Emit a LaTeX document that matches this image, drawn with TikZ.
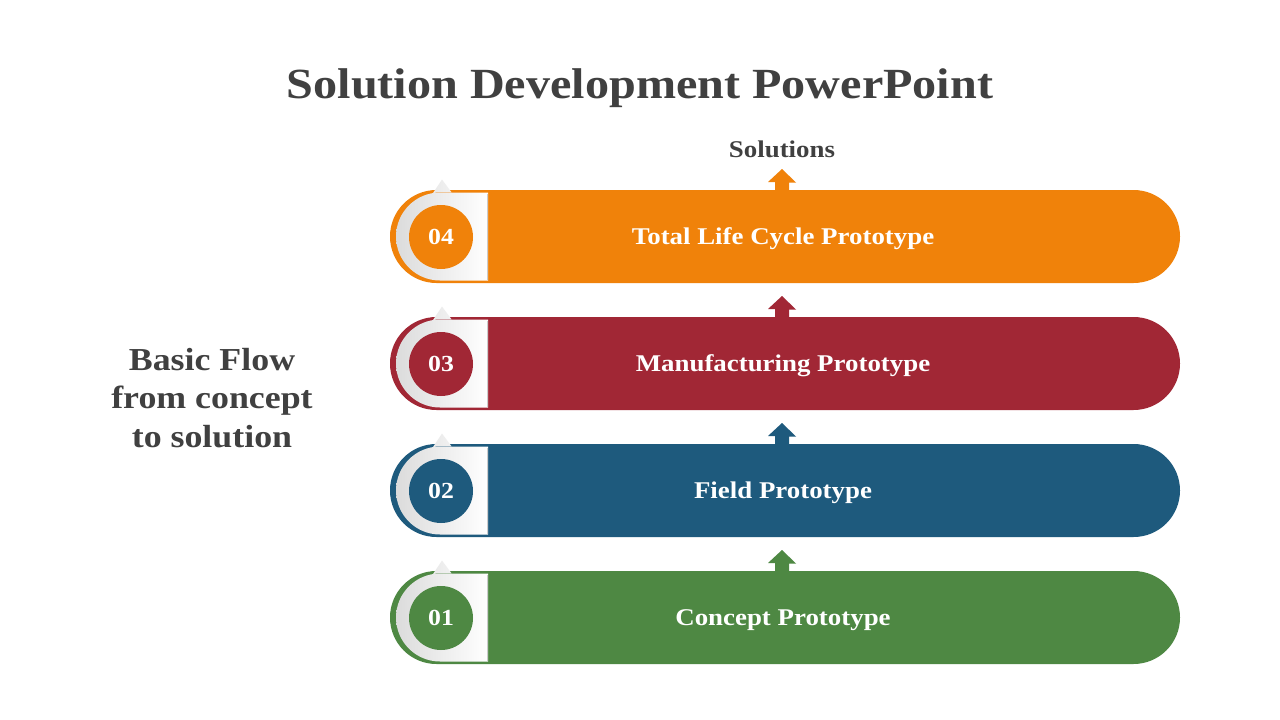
\documentclass[tikz,border=0pt]{standalone}
\usepackage{fontspec}
\setmainfont[FakeStretch=1.12]{Liberation Serif}
\usetikzlibrary{shapes.misc}
\definecolor{cOrange}{HTML}{F0820A}
\definecolor{cRed}{HTML}{A12735}
\definecolor{cBlue}{HTML}{1E5A7D}
\definecolor{cGreen}{HTML}{4E8843}
\definecolor{cText}{HTML}{404040}
\tikzset{
  titletext/.style={font=\fontsize{43}{50}\selectfont\bfseries, text=cText},
  sidetext/.style={font=\fontsize{32}{38.5}\selectfont\bfseries, text=cText, align=center},
  soltext/.style={font=\fontsize{24}{26}\selectfont\bfseries, text=cText},
  stagebar/.style={rounded rectangle, minimum width=790pt, minimum height=93pt, inner sep=0pt, draw=none},
  badge/.style={left color=black!14, right color=white, draw=none},
  numdisc/.style={circle, minimum size=64pt, inner sep=0pt, text=white, font=\fontsize{23}{26}\selectfont\bfseries},
  bartext/.style={text=white, font=\fontsize{24}{28}\selectfont\bfseries}
}
\begin{document}
\begin{tikzpicture}[x=1pt,y=-1pt]
\useasboundingbox[fill=white] (0,0) rectangle (1280,720);
\node[titletext] (title) at (640,88) {Solution Development PowerPoint};
\node[sidetext] (side) at (212,398) {Basic Flow\\from concept\\to solution};
\node[soltext] (sol) at (782,149) {Solutions};
\foreach \cy/\col/\num/\lab/\nm in {236.5/cOrange/04/Total Life Cycle Prototype/d,
                                 363.5/cRed/03/Manufacturing Prototype/c,
                                 490.5/cBlue/02/Field Prototype/b,
                                 617.5/cGreen/01/Concept Prototype/a}{
  \node[stagebar, fill=\col] (bar\nm) at (785,\cy) {};
  \coordinate (tip\nm) at (782,\cy-67.5);
  \fill[\col] (tip\nm) -- ++(14,13.5) -- ++(-7,0) -- (789,\cy-46.5) -- (775,\cy-46.5) -- ++(0,-8) -- ++(-7,0) -- cycle;
  \path[badge] (488,\cy-44) -- (440,\cy-44) arc[start angle=270, end angle=90, radius=44] -- (488,\cy+44) -- cycle
               (433,\cy-43.5) -- (442,\cy-57) -- (452,\cy-43.5) -- cycle;
  \draw[black!20, line width=1.2pt] (487.4,\cy-43) -- (487.4,\cy+43);
  \node[numdisc, fill=\col] (num\nm) at (441,\cy+0.5) {\num};
  \node[bartext] (lab\nm) at (783,\cy+2.5) {\lab};
}
\end{tikzpicture}
\end{document}
